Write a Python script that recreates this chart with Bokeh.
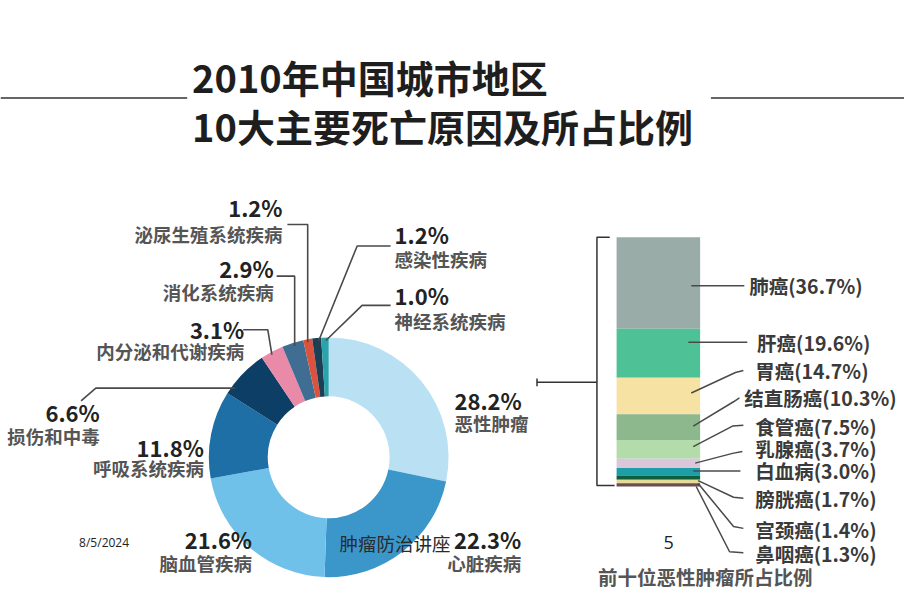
import numpy as np
from bokeh.plotting import figure
from bokeh.models import Range1d
from bokeh.core.properties import value
from bokeh.embed import file_html
from bokeh.resources import INLINE

# ---------------- data ----------------
causes = ["恶性肿瘤", "心脏疾病", "脑血管疾病", "呼吸系统疾病", "损伤和中毒",
          "内分泌和代谢疾病", "消化系统疾病", "泌尿生殖系统疾病", "感染性疾病", "神经系统疾病"]
cause_pct = [28.2, 22.3, 21.6, 11.8, 6.6, 3.1, 2.9, 1.2, 1.2, 1.0]
cause_colors = ["#b9e1f3", "#3b97ca", "#70c1ea", "#1d6fa6", "#0d3e66",
                "#e98aa9", "#3f6e92", "#d9533f", "#1c3f56", "#2aa3ab"]

cancers = ["肺癌", "肝癌", "胃癌", "结直肠癌", "食管癌", "乳腺癌", "白血病", "膀胱癌", "宫颈癌", "鼻咽癌"]
cancer_pct = [36.7, 19.6, 14.7, 10.3, 7.5, 3.7, 3.0, 1.7, 1.4, 1.3]
cancer_colors = ["#9aaca7", "#4fc197", "#f6e3a3", "#8db78d", "#b3dcaa",
                 "#dbc6da", "#1e9ea7", "#0f5e3d", "#e2dc98", "#6d4b4f"]

title_lines = ["2010年中国城市地区", "10大主要死亡原因及所占比例"]
bar_title = "前十位恶性肿瘤所占比例"
footer_date = "8/5/2024"
footer_text = "肿瘤防治讲座"
footer_page = "5"

# ---------------- layout ----------------
# figure is 904x598 px; data units are the 920x614 picture's pixels
W, H = 904, 598
RW, RH = 920, 614
CJK = value("Noto Sans CJK SC")
def Y(sy):  # picture pixel y -> data y (y axis points up)
    return -sy

p = figure(width=W, height=H, x_range=Range1d(0, RW), y_range=Range1d(-RH, 0),
           output_backend="svg", toolbar_location=None, min_border=0)
p.axis.visible = False
p.grid.visible = False
p.outline_line_color = None
p.background_fill_color = "white"
p.border_fill_color = "white"

# ---------------- title ----------------
p.text(x=[195, 195], y=[Y(78), Y(128)], text=title_lines, text_font=CJK, text_font_style="bold",
       text_font_size="38px", text_color="#1e1e1e", text_baseline="middle", text_align="left")
p.segment(x0=[0, 723], y0=[Y(100), Y(100)], x1=[190, 920], y1=[Y(100), Y(100)],
          line_color="#333333", line_width=1.5)

# ---------------- donut ----------------
CX, CY, R_OUT, R_IN = 334, 469, 122, 62
vals = np.array(cause_pct)
tot = vals.sum()
c1 = np.cumsum(vals)
c0 = c1 - vals
start = np.pi / 2 - 2 * np.pi * c0 / tot
end = np.pi / 2 - 2 * np.pi * c1 / tot
p.annular_wedge(x=CX, y=Y(CY), inner_radius=R_IN, outer_radius=R_OUT,
                start_angle=start, end_angle=end, direction="clock",
                fill_color=cause_colors, line_color=None)

mid_deg = 360 * (c0 + c1) / 2 / tot  # clockwise from top
def rim(i):
    a = np.radians(mid_deg[i])
    return CX + R_OUT * np.sin(a), CY - R_OUT * np.cos(a)

lead_x, lead_y = [], []
def add_leader(pts):
    lead_x.append([q[0] for q in pts])
    lead_y.append([Y(q[1]) for q in pts])

rx, ry = rim(7)   # 泌尿生殖
add_leader([(292, 230), (rx, 230), (rx, ry + 2)])
rx, ry = rim(6)   # 消化
add_leader([(281, 283), (rx + 2, 283), (rx + 2, ry + 2)])
rx, ry = rim(5)   # 内分泌
add_leader([(247, 338), (272, 338), (rx, ry + 2)])
xr = CX - np.sqrt(R_OUT ** 2 - (CY - 398) ** 2) + 4  # 损伤 horizontal leader
add_leader([(82, 411), (97, 398), (xr, 398)])
rx, ry = rim(8)   # 感染性
add_leader([(397, 252), (363, 252), (rx + 2, ry + 2)])
rx, ry = rim(9)   # 神经
add_leader([(397, 313), (368, 313), (rx + 1, ry + 2)])
p.multi_line(xs=lead_x, ys=lead_y, line_color="#4a4a4a", line_width=1.6)

# donut labels: (index, x, pct_y, name_y, align)
donut_labels = [
    (7, 287, 212, 240, "right"),
    (6, 278, 275, 299, "right"),
    (5, 248, 337, 360, "right"),
    (4, 101, 423, 447, "right"),
    (3, 207, 458, 480, "right"),
    (8, 401, 240, 265, "left"),
    (9, 401, 302, 329, "left"),
    (0, 462, 410, 434, "left"),
    (2, 256, 553, 578, "right"),
    (1, 530, 553, 578, "right"),
]
for i, x, py, ny, al in donut_labels:
    p.text(x=[x], y=[Y(py)], text=[f"{cause_pct[i]}%"], text_font=CJK, text_font_style="bold",
           text_font_size="22px", text_color="#222222", text_align=al, text_baseline="middle")
    p.text(x=[x], y=[Y(ny)], text=[causes[i]], text_font=CJK, text_font_style="bold",
           text_font_size="18.5px", text_color="#555555", text_align=al, text_baseline="middle")

# ---------------- stacked bar ----------------
BAR_TOP, BAR_BOT = 243, 499
cv = np.array(cancer_pct)
ctot = cv.sum()
ppu = (BAR_BOT - BAR_TOP) / ctot
p.extra_y_ranges = {"bar": Range1d(start=-(RH - BAR_BOT) / ppu, end=BAR_BOT / ppu)}
cc1 = np.cumsum(cv)
cc0 = cc1 - cv
p.vbar(x=669.5, width=85, bottom=ctot - cc1, top=ctot - cc0, fill_color=cancer_colors,
       line_color=None, y_range_name="bar")

# bracket
p.multi_line(xs=[[620, 607, 607, 625], [546, 607], [546, 546]],
             ys=[[Y(243), Y(243), Y(498), Y(498)], [Y(392), Y(392)], [Y(388), Y(396)]],
             line_color="#333333", line_width=1.5)

bar_leaders = [
    [(703, 293), (757, 293)],
    [(700, 351), (760, 351)],
    [(703, 403), (748, 382), (756, 380)],
    [(705, 437), (746, 412), (752, 408)],
    [(705, 458), (745, 437), (756, 436)],
    [(707, 475), (745, 465), (755, 463)],
    [(705, 483), (753, 483)],
    [(710, 493), (746, 510), (756, 511)],
    [(710, 496), (746, 540), (756, 542)],
    [(708, 499), (742, 566), (756, 567)],
]
p.multi_line(xs=[[q[0] for q in l] for l in bar_leaders],
             ys=[[Y(q[1]) for q in l] for l in bar_leaders],
             line_color="#4a4a4a", line_width=1.5)

bar_label_x = [762, 770, 768, 757, 768, 768, 768, 768, 768, 768]
bar_label_y = [293, 351, 380, 408, 437, 460, 483, 511, 543, 568]
p.text(x=bar_label_x, y=[Y(v) for v in bar_label_y],
       text=[f"{n}({v}%)" for n, v in zip(cancers, cancer_pct)],
       text_font=CJK, text_font_style="bold", text_font_size="19.5px", text_color="#3a3a3a",
       text_align="left", text_baseline="middle")

p.text(x=[608], y=[Y(591)], text=[bar_title], text_font=CJK, text_font_style="bold",
       text_font_size="19.5px", text_color="#555555", text_align="left", text_baseline="middle")

# ---------------- footer ----------------
p.text(x=[80], y=[Y(556)], text=[footer_date], text_font=value("Open Sans"),
       text_font_size="12px", text_color="#222222", text_align="left", text_baseline="middle")
p.text(x=[345], y=[Y(557)], text=[footer_text], text_font=CJK,
       text_font_size="18.5px", text_color="#2a2a2a", text_align="left", text_baseline="middle")
p.text(x=[680], y=[Y(557)], text=[footer_page], text_font=value("Open Sans"),
       text_font_size="18px", text_color="#222222", text_align="center", text_baseline="middle")

open("out.html", "w").write(file_html(p, INLINE))
